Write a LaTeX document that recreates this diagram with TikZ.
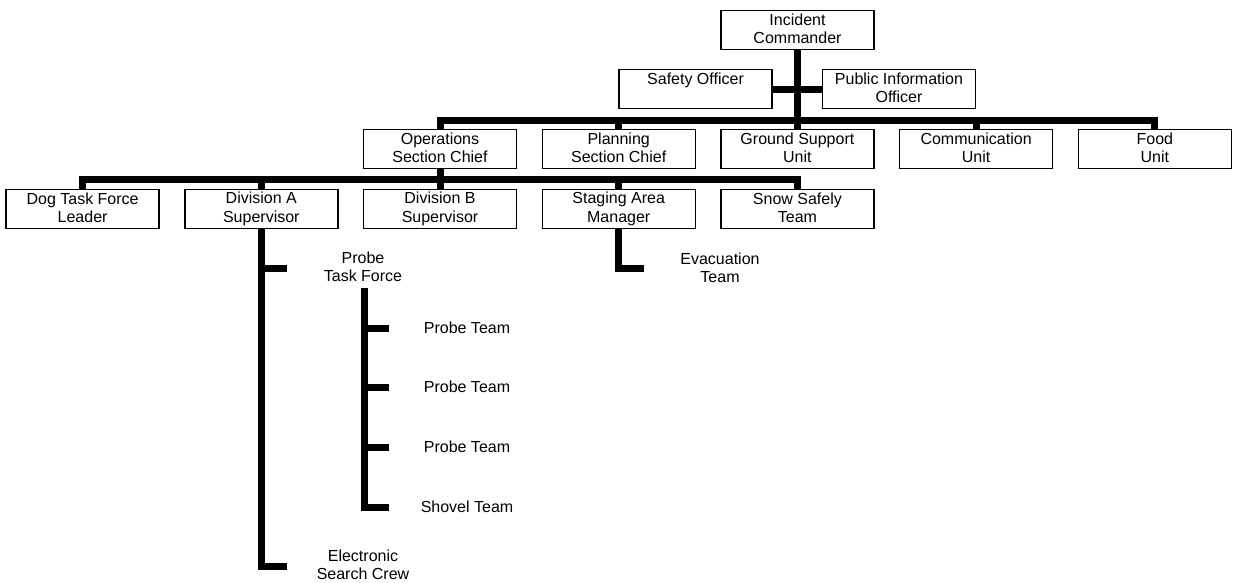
\documentclass[tikz,border=0pt]{standalone}
\usepackage{fontspec}
\setmainfont{Liberation Sans}
\usepackage{tikz}
\usetikzlibrary{positioning}

\newcommand{\boxstrut}{\rule[-2.2pt]{0pt}{18pt}}

\begin{document}
\begin{tikzpicture}[
    x=1pt, y=-1pt,
    font=\fontsize{16pt}{18.5pt}\selectfont,
    node distance=19.6pt and 24.3pt,
    unit/.style={
        rectangle,
        draw=black, line width=1.4pt,
        minimum width=153pt, minimum height=39pt,
        inner sep=0pt, align=center,
        execute at begin node=\boxstrut, execute at end node=\boxstrut
    },
    team/.style={align=center, inner sep=0pt},
    link/.style={line width=7pt},
]
\useasboundingbox (0,0) rectangle (1233,582);

% ---------- Command ----------
\node[unit] (ic) at (797.5,30) {Incident\\Commander};
\node[unit] (safety) at (695.5,89) {Safety Officer\\\mbox{}};
\node[unit] (pio) at (899,89) {Public Information\\Officer};

% ---------- Sections and units ----------
\node[unit] (ops) at (440,149) {Operations\\Section Chief};
\node[unit, right=of ops] (plan) {Planning\\Section Chief};
\node[unit, right=of plan] (gsu) {Ground Support\\Unit};
\node[unit, right=of gsu] (comm) {Communication\\Unit};
\node[unit, right=of comm] (food) {Food\\Unit};

% ---------- Operations branch ----------
\node[unit, below=of ops] (divb) {Division B\\Supervisor};
\node[unit, left=of divb] (diva) {Division A\\Supervisor};
\node[unit, left=of diva] (dog) {Dog Task Force\\Leader};
\node[unit, right=of divb] (staging) {Staging Area\\Manager};
\node[unit, right=of staging] (snow) {Snow Safely\\Team};

% ---------- Teams without boxes ----------
\node[team] (evac) at (720,268) {Evacuation\\Team};
\node[team] (ptf) at (363,267) {Probe\\Task Force};
\node[team] (esc) at (363,565) {Electronic\\Search Crew};
\node[team] (pt1) at (467,328) {Probe Team};
\node[team] (pt2) at (467,387) {Probe Team};
\node[team] (pt3) at (467,447) {Probe Team};
\node[team] (shovel) at (467,507) {Shovel Team};

% bus lines and tick ends
\coordinate (busA) at (797.5,120);
\coordinate (busB) at (440,179);
\coordinate (evacTick) at (644,268);
\coordinate (ptfTick) at (287,268);
\coordinate (escTick) at (287,566);
\coordinate (ptfTop) at (364,288);

% ---------- Connectors ----------
\draw[link] (ic.south) -- (ic.south |- gsu.north);
\draw[link] (safety) -- (pio);

\draw[link] (ops.north) |- (busA) -| (food.north);
\draw[link] (plan.north) |- (busA);
\draw[link] (comm.north) |- (busA);

\draw[link] (ops.south) -- (divb.north);
\draw[link] (dog.north) |- (busB) -| (snow.north);
\draw[link] (diva.north) |- (busB);
\draw[link] (staging.north) |- (busB);

\draw[link] (staging.south) |- (evacTick);

\draw[link] (diva.south) |- (escTick);
\draw[link] (diva.south |- ptfTick) -- (ptfTick);

% probe task force
\draw[link] (ptfTop) -- (ptfTop |- shovel) -- ++(25,0);
\draw[link] (ptfTop |- pt1) -- ++(25,0);
\draw[link] (ptfTop |- pt2) -- ++(25,0);
\draw[link] (ptfTop |- pt3) -- ++(25,0);

\end{tikzpicture}
\end{document}
